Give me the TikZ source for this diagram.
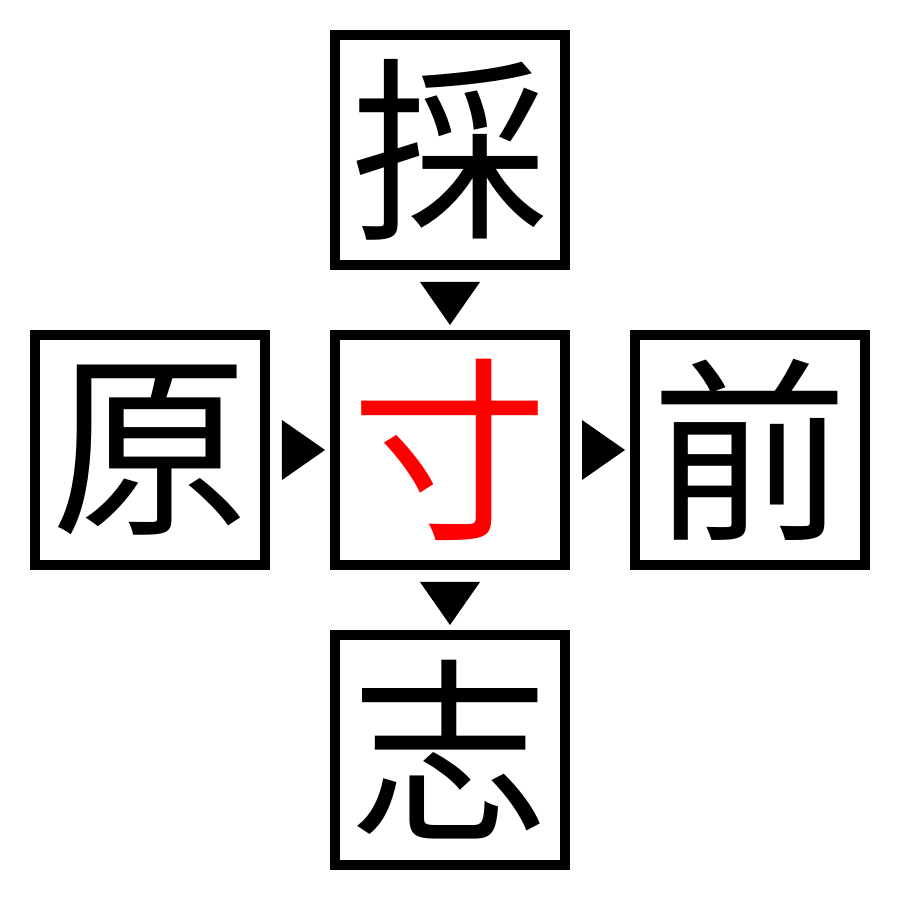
\documentclass[tikz,border=0pt]{standalone}
\usepackage{fontspec}
\newfontfamily\cjk{Noto Sans CJK JP}
\usetikzlibrary{positioning,calc}
\begin{document}
\begin{tikzpicture}[auto,
    every node/.style={inner sep=0pt, rectangle, text centered},
    kanji/.style={draw, line width=0.1cm, minimum size=2.3cm, font=\cjk\fontsize{56pt}{56pt}\selectfont},
    pointer/.style={fill=black}]
\useasboundingbox (0,0) rectangle (9,9);
\node [kanji, text=red] (c) at (4.5,4.5) {寸};
\node [kanji, above=0.6 of c] (t) {採};
\node [kanji, left=0.6 of c] (l) {原};
\node [kanji, right=0.6 of c] (r) {前};
\node [kanji, below=0.6 of c] (b) {志};

% markers between the boxes
\fill [pointer] ($(t.south)+(-0.3,-0.12)$) -- ($(t.south)+(0.3,-0.12)$) -- ($(c.north)+(0,0.05)$) -- cycle;
\fill [pointer] ($(c.south)+(-0.3,-0.12)$) -- ($(c.south)+(0.3,-0.12)$) -- ($(b.north)+(0,0.05)$) -- cycle;
\fill [pointer] ($(l.east)+(0.12,0.3)$) -- ($(l.east)+(0.12,-0.3)$) -- ($(c.west)+(-0.05,0)$) -- cycle;
\fill [pointer] ($(c.east)+(0.12,0.3)$) -- ($(c.east)+(0.12,-0.3)$) -- ($(r.west)+(-0.05,0)$) -- cycle;
\end{tikzpicture}
\end{document}
